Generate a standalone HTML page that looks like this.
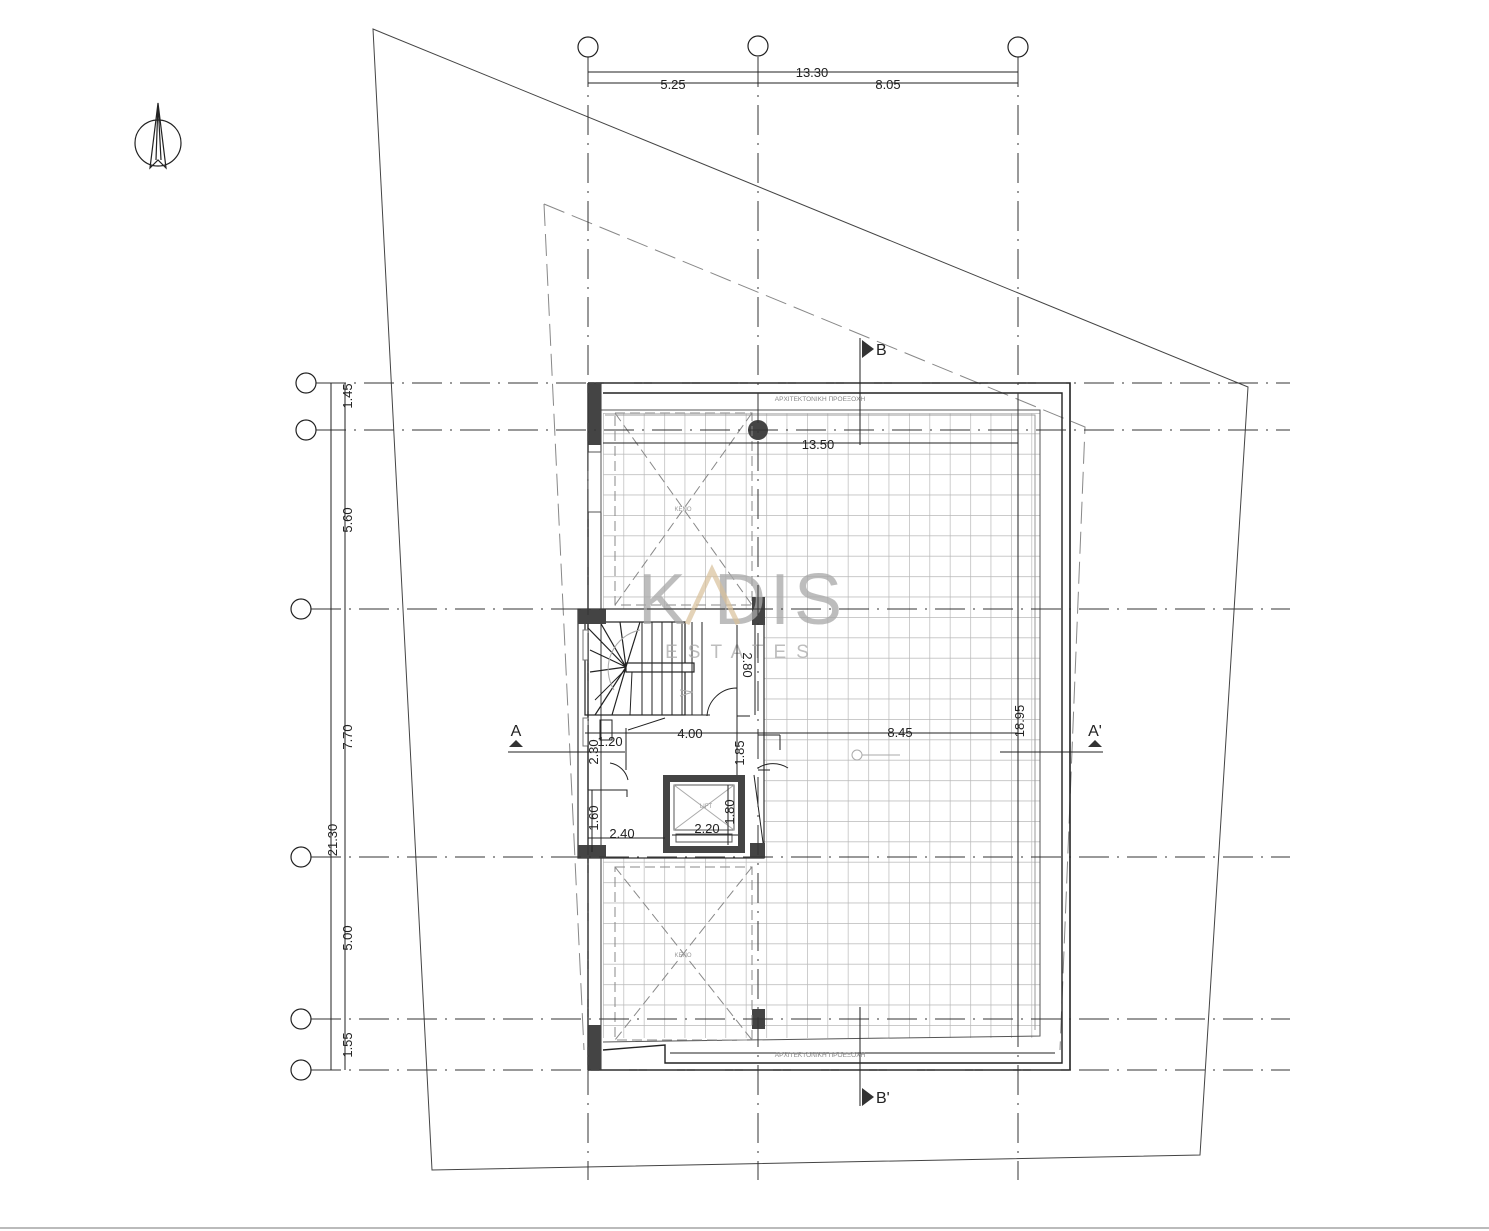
<!DOCTYPE html>
<html><head><meta charset="utf-8"><style>
html,body{margin:0;padding:0;background:#fff;}
svg{display:block;}
text{font-family:"Liberation Sans",sans-serif;}
</style></head><body>
<svg width="1489" height="1231" viewBox="0 0 1489 1231" xmlns="http://www.w3.org/2000/svg">
<defs>
<pattern id="g" x="603" y="413" width="20.4" height="20.4" patternUnits="userSpaceOnUse">
<path d="M0 0V20.4M0 0H20.4" stroke="#b8b8b8" stroke-width="1.4" fill="none"/>
</pattern>
</defs>
<rect width="1489" height="1231" fill="#fff"/>
<line x1="0" y1="1228" x2="1489" y2="1228" stroke="#bbb" stroke-width="2"/>

<polygon points="373,29 1248,387 1200,1155 432,1170" fill="none" stroke="#444" stroke-width="1"/>
<polyline points="544,204 1085,427 1060,1050" fill="none" stroke="#888" stroke-width="1" stroke-dasharray="22,8"/>
<line x1="544" y1="204" x2="584" y2="1050" stroke="#888" stroke-width="1" stroke-dasharray="22,8"/>

<rect x="603" y="413" width="437" height="625" fill="url(#g)"/>
<rect x="578" y="609" width="186" height="249" fill="#fff"/>

<path d="M588 383H1070V1070H588" fill="none" stroke="#222" stroke-width="1.6"/>
<path d="M603 393H1062V1063H665V1045L603 1050" fill="none" stroke="#222" stroke-width="1.4"/>
<path d="M600 410H1040V1036L603 1042" fill="none" stroke="#555" stroke-width="1"/>
<path d="M605 415H1035V1030" fill="none" stroke="#999" stroke-width="1"/>
<line x1="670" y1="1053" x2="1055" y2="1053" stroke="#222" stroke-width="1"/>
<line x1="588" y1="383" x2="588" y2="1070" stroke="#222" stroke-width="1.4"/>
<line x1="601" y1="383" x2="601" y2="1070" stroke="#333" stroke-width="1"/>
<rect x="588" y="383" width="13" height="62" fill="#444"/>
<rect x="588" y="452" width="13" height="60" fill="#fff" stroke="#555"/>
<rect x="588" y="1025" width="13" height="45" fill="#444"/>
<rect x="752" y="1009" width="13" height="20" fill="#444"/>
<circle cx="758" cy="430" r="10" fill="#444"/>

<text x="820" y="401" font-size="6.5" fill="#888" text-anchor="middle">ΑΡΧΙΤΕΚΤΟΝΙΚΗ ΠΡΟΕΞΟΧΗ</text>
<text x="820" y="1057" font-size="6.5" fill="#888" text-anchor="middle">ΑΡΧΙΤΕΚΤΟΝΙΚΗ ΠΡΟΕΞΟΧΗ</text>

<g stroke="#888" stroke-width="1" fill="none" stroke-dasharray="10,5">
<rect x="615" y="413" width="137" height="192"/>
<line x1="615" y1="413" x2="752" y2="605"/><line x1="752" y1="413" x2="615" y2="605"/>
<rect x="615" y="867" width="137" height="173"/>
<line x1="615" y1="867" x2="752" y2="1040"/><line x1="752" y1="867" x2="615" y2="1040"/>
</g>
<text x="683" y="511" font-size="6" fill="#999" text-anchor="middle">ΚΕΝΟ</text>
<text x="683" y="957" font-size="6" fill="#999" text-anchor="middle">ΚΕΝΟ</text>

<g stroke="#222" fill="none" stroke-width="1.2">
<path d="M578 609H764V858H578Z" stroke="#333"/>
<rect x="585" y="622" width="100" height="93"/>
<rect x="626" y="663" width="68" height="9" fill="#fff"/>
<path d="M690 622V715M700 622V715M710 622V715M720 622V715M730 622V715M740 622V715M750 622V715" stroke-width="1" transform="translate(-48,0)"/>
<path d="M626 667L588 628M626 667L590 650M626 667L590 672M626 667L595 715M626 667L612 715M626 667L640 622M626 667L620 622M626 667L600 622"/>
<path d="M626 669L595 700M632 672L630 715" stroke-width="1"/>
<path d="M614 690 A40 40 0 0 1 640 630" stroke="#aaa" stroke-width="1"/>
<path d="M680 690 L693 692 L680 696" stroke="#aaa" stroke-width="1"/>
<path d="M585 715H710M628 730L665 718M626 728V770M600 720H612V740H600Z" stroke-width="1"/>
<path d="M737 716V688M737 716H750M737 688 A30 30 0 0 0 707 716" stroke-width="1"/>
<path d="M755 600V715M758 735H780M758 770H770M780 735V750M758 768 A28 28 0 0 1 788 768" stroke-width="1"/>
<path d="M588 790H627V797M588 800V850M610 763 A22 22 0 0 1 628 780" stroke-width="1"/>
<path d="M754 775L764 850" stroke-width="1"/>
</g>
<rect x="578" y="609" width="28" height="15" fill="#444"/>
<rect x="752" y="597" width="13" height="28" fill="#444"/>
<rect x="578" y="845" width="28" height="13" fill="#444"/>
<rect x="750" y="843" width="15" height="15" fill="#444"/>
<rect x="583" y="630" width="5" height="30" fill="#fff" stroke="#777"/>
<rect x="583" y="718" width="5" height="28" fill="#fff" stroke="#777"/>
<path d="M663 775H745V853H663Z M670 782V846H738V782Z" fill="#444" fill-rule="evenodd"/>
<rect x="674" y="785" width="60" height="45" fill="#fff" stroke="#555"/>
<line x1="674" y1="785" x2="734" y2="830" stroke="#aaa"/><line x1="734" y1="785" x2="674" y2="830" stroke="#aaa"/>
<rect x="676" y="834" width="56" height="8" fill="#fff" stroke="#555"/>
<text x="706" y="808" font-size="6" fill="#999" text-anchor="middle">LIFT</text>

<text x="742" y="624" font-size="72" fill="#a8a8a8" text-anchor="middle" opacity="0.75" letter-spacing="4">K  DIS</text>
<path d="M687 624L712 570L738 624" stroke="#d9c19a" stroke-width="5" fill="none" opacity="0.7"/>
<text x="742" y="658" font-size="19" fill="#a8a8a8" text-anchor="middle" opacity="0.75" letter-spacing="10">ESTATES</text>

<g stroke="#333" stroke-width="1" stroke-dasharray="30,8,2,8">
<line x1="588" y1="57" x2="588" y2="1180"/>
<line x1="758" y1="57" x2="758" y2="1180"/>
<line x1="1018" y1="57" x2="1018" y2="1180"/>
<line x1="316" y1="383" x2="1290" y2="383"/>
<line x1="316" y1="430" x2="1290" y2="430"/>
<line x1="311" y1="609" x2="1290" y2="609"/>
<line x1="311" y1="857" x2="1290" y2="857"/>
<line x1="311" y1="1019" x2="1290" y2="1019"/>
<line x1="311" y1="1070" x2="1290" y2="1070"/>
</g>
<g fill="#fff" stroke="#222" stroke-width="1.2">
<circle cx="588" cy="47" r="10"/><circle cx="758" cy="46" r="10"/><circle cx="1018" cy="47" r="10"/>
<circle cx="306" cy="383" r="10"/><circle cx="306" cy="430" r="10"/><circle cx="301" cy="609" r="10"/>
<circle cx="301" cy="857" r="10"/><circle cx="301" cy="1019" r="10"/><circle cx="301" cy="1070" r="10"/>
</g>

<g stroke="#222" stroke-width="1" fill="none">
<line x1="588" y1="72" x2="1018" y2="72"/>
<line x1="588" y1="83" x2="1018" y2="83"/>
<line x1="331" y1="383" x2="331" y2="1070"/>
<line x1="345" y1="383" x2="345" y2="1070"/>
<line x1="603" y1="443" x2="1018" y2="443"/>
<line x1="1018" y1="420" x2="1018" y2="1030"/>
<line x1="760" y1="733" x2="1018" y2="733"/>
<line x1="585" y1="733" x2="760" y2="733"/>
<line x1="737" y1="625" x2="737" y2="716"/>
<line x1="737" y1="716" x2="737" y2="775"/>
<line x1="588" y1="725" x2="588" y2="790"/>
<line x1="592" y1="790" x2="592" y2="852"/>
<line x1="588" y1="838" x2="665" y2="838"/>
<line x1="672" y1="835" x2="738" y2="835"/>
<line x1="728" y1="785" x2="728" y2="845"/>
<line x1="860" y1="338" x2="860" y2="445"/>
<line x1="860" y1="1007" x2="860" y2="1106"/>
<line x1="508" y1="752" x2="625" y2="752"/>
<line x1="1000" y1="752" x2="1103" y2="752"/>
</g>
<g font-size="13" fill="#222" text-anchor="middle">
<text x="812" y="77">13.30</text>
<text x="673" y="89">5.25</text>
<text x="888" y="89">8.05</text>
<text x="818" y="449">13.50</text>
<text x="900" y="737">8.45</text>
<text x="690" y="738">4.00</text>
<text x="622" y="838">2.40</text>
<text x="707" y="833">2.20</text>
<text x="610" y="746">1.20</text>
<text transform="translate(352,396) rotate(-90)">1.45</text>
<text transform="translate(352,520) rotate(-90)">5.60</text>
<text transform="translate(352,737) rotate(-90)">7.70</text>
<text transform="translate(337,840) rotate(-90)">21.30</text>
<text transform="translate(352,938) rotate(-90)">5.00</text>
<text transform="translate(352,1045) rotate(-90)">1.55</text>
<text transform="translate(743,665) rotate(90)">2.80</text>
<text transform="translate(744,753) rotate(-90)">1.85</text>
<text transform="translate(734,812) rotate(-90)">1.80</text>
<text transform="translate(598,752) rotate(-90)">2.30</text>
<text transform="translate(598,818) rotate(-90)">1.60</text>
<text transform="translate(1024,721) rotate(-90)">18.95</text>
</g>
<polygon points="862,340 874,349 862,358" fill="#333"/>
<text x="876" y="355" font-size="16" fill="#222">B</text>
<polygon points="862,1088 874,1097 862,1106" fill="#333"/>
<text x="876" y="1103" font-size="16" fill="#222">B'</text>
<polygon points="509,747 516,740 523,747" fill="#333"/>
<text x="516" y="736" font-size="16" fill="#222" text-anchor="middle">A</text>
<polygon points="1088,747 1095,740 1102,747" fill="#333"/>
<text x="1095" y="736" font-size="16" fill="#222" text-anchor="middle">A'</text>
<circle cx="857" cy="755" r="5" fill="none" stroke="#aaa"/>
<line x1="862" y1="755" x2="900" y2="755" stroke="#aaa"/>

<circle cx="158" cy="143" r="23" fill="none" stroke="#222" stroke-width="1.2"/>
<path d="M158 103L150 168L158 160L166 168Z M158 103L156 160 M158 103L161 160" fill="none" stroke="#222" stroke-width="1.2"/>
</svg>
</body></html>
